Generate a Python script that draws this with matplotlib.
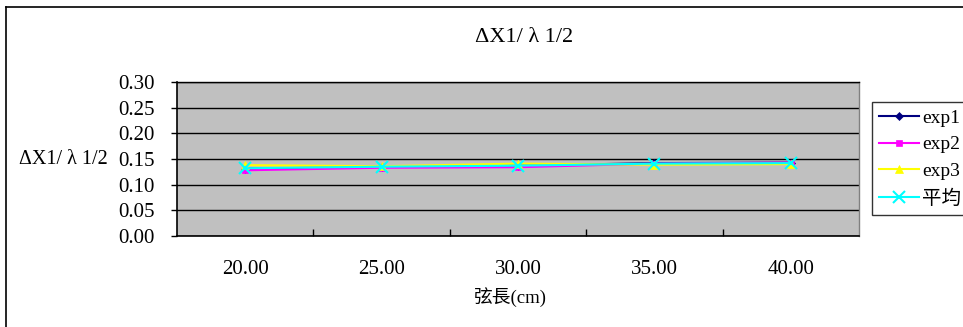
import matplotlib
matplotlib.use("Agg")
import matplotlib.pyplot as plt
from matplotlib.lines import Line2D

plt.rcParams['font.family'] = ['Liberation Serif', 'Noto Sans CJK TC', 'DejaVu Sans']

# chord length categories (cm)
categories = ["20.00", "25.00", "30.00", "35.00", "40.00"]
exp1 = [0.131, 0.135, 0.137, 0.142, 0.143]
exp2 = [0.128, 0.133, 0.134, 0.141, 0.143]
exp3 = [0.138, 0.136, 0.141, 0.139, 0.140]
avg = [0.132, 0.135, 0.137, 0.141, 0.142]
series_names = ["exp1", "exp2", "exp3", "平均"]
y_ticks = [0.00, 0.05, 0.10, 0.15, 0.20, 0.25, 0.30]

W, H = 963, 327
fig = plt.figure(figsize=(W / 100, H / 100), dpi=100)
fig.patch.set_facecolor("white")

# outer chart frame (left and top edges)
fig.add_artist(Line2D([6 / W, 6 / W], [0, 1 - 7 / H], transform=fig.transFigure,
                      color="black", lw=1.2))
fig.add_artist(Line2D([6 / W, 1], [1 - 7 / H, 1 - 7 / H], transform=fig.transFigure,
                      color="black", lw=1.2))

left, right = 177 / W, 859 / W
bottom, top = 1 - 236 / H, 1 - 82 / H
ax = fig.add_axes([left, bottom, right - left, top - bottom])
ax.set_facecolor("#C0C0C0")

x = list(range(len(categories)))
styles = [
    (exp1, "#000080", "D", 4),
    (exp2, "#FF00FF", "s", 4),
    (exp3, "#FFFF00", "^", 6),
    (avg, "#00FFFF", "x", 8),
]
for (vals, col, mk, ms), name in zip(styles, series_names):
    ax.plot(x, vals, color=col, marker=mk, markersize=ms, lw=1.5,
            markeredgewidth=1.5 if mk == "x" else 0.5, markeredgecolor=col,
            label=name, zorder=3)

ax.set_xlim(-0.5, len(categories) - 0.5)
ax.set_ylim(0, 0.30)
ax.set_yticks(y_ticks)
ax.set_yticklabels([f"{v:.2f}" for v in y_ticks], fontsize=15)
ax.yaxis.grid(True, color="black", lw=1.0)
ax.set_axisbelow(True)

ax.set_xticks(x)
ax.set_xticklabels(categories, fontsize=15)
ax.set_xticks([i + 0.5 for i in x[:-1]], minor=True)
ax.tick_params(axis="x", which="major", length=0, pad=17)
ax.tick_params(axis="x", which="minor", direction="in", length=5, width=1, color="black")
ax.tick_params(axis="y", direction="out", length=4, width=1, pad=12)

for s in ["left", "bottom"]:
    ax.spines[s].set_color("black")
    ax.spines[s].set_linewidth(1.2)
ax.spines["top"].set_color("black")
ax.spines["top"].set_linewidth(1.0)
ax.spines["right"].set_color("#808080")
ax.spines["right"].set_linewidth(1.0)

title = "ΔX1/ λ 1/2"
fig.text(524 / W, 1 - 38 / H, title, ha="center", va="center", fontsize=16)
fig.text(63 / W, 1 - 159 / H, title, ha="center", va="center", fontsize=14.5)
fig.text(510 / W, 1 - 297 / H, "弦長(cm)", ha="center", va="center", fontsize=13.5)

leg = ax.legend(loc="upper left", bbox_to_anchor=(872 / W, 1 - 102 / H),
                bbox_transform=fig.transFigure, borderaxespad=0, frameon=True,
                fancybox=False, edgecolor="black", fontsize=14, handlelength=2.06,
                handletextpad=0.15, labelspacing=0.47, borderpad=0.36)
leg.get_frame().set_linewidth(1.0)

fig.savefig("out.png", dpi=100)
